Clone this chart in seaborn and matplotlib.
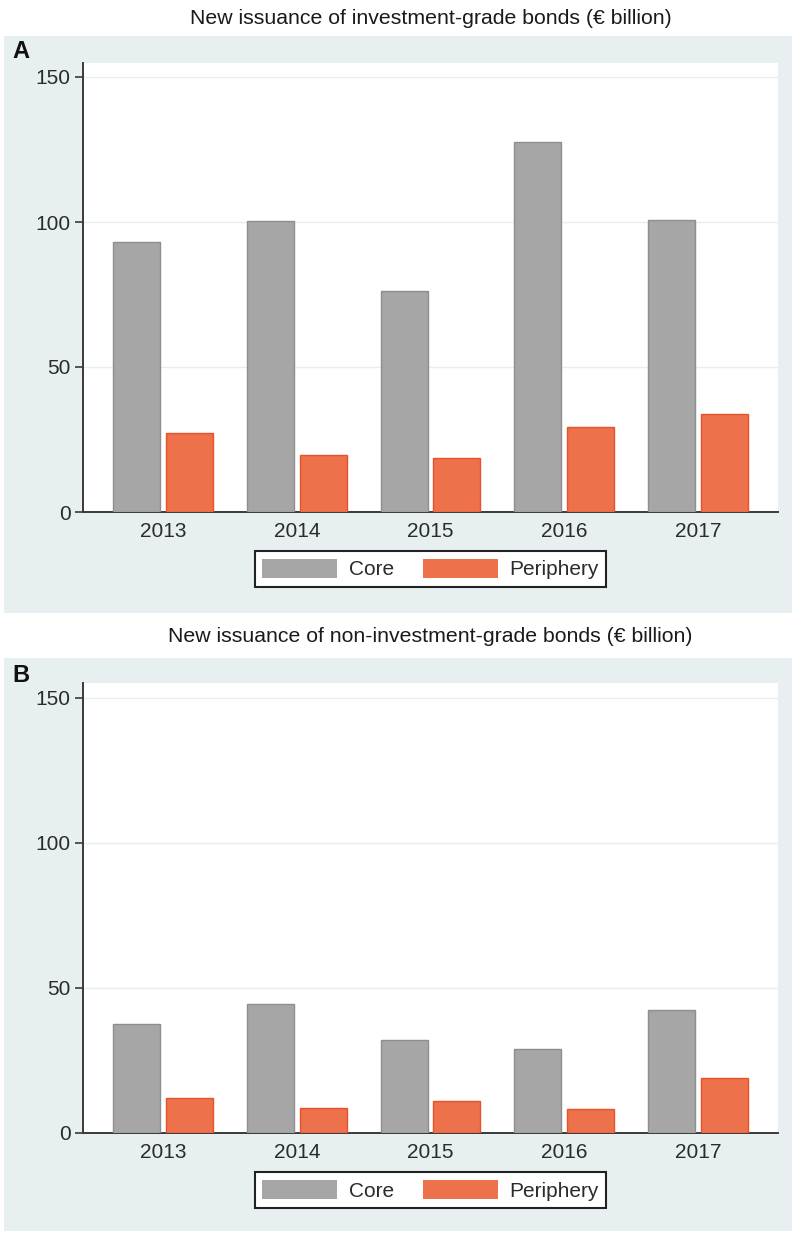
import numpy as np
import pandas as pd
import matplotlib
matplotlib.use('Agg')
import matplotlib.pyplot as plt
import seaborn as sns
from matplotlib.patches import Rectangle

plt.rcParams['font.family'] = ['Liberation Sans', 'DejaVu Sans']

# data (€ billion)
years = ['2013', '2014', '2015', '2016', '2017']
ig_core = [93.2, 100.3, 76.3, 127.5, 100.7]
ig_periphery = [27.1, 19.8, 18.6, 29.2, 33.8]
hy_core = [37.6, 44.5, 32.1, 29.0, 42.4]
hy_periphery = [12.1, 8.6, 11.1, 8.2, 19.0]
series_names = ['Core', 'Periphery']
titles = ['New issuance of investment-grade bonds (€ billion)',
          'New issuance of non-investment-grade bonds (€ billion)']
panel_letters = ['A', 'B']
y_ticks = [0, 50, 100, 150]

face_colors = {'Core': '#a6a6a6', 'Periphery': '#ed714a'}
edge_colors = {'Core': '#8e8e8e', 'Periphery': '#e6522b'}
panel_bg = '#e7eff1'
text_col = '#2b2b2b'


def make_df(core, periphery):
    return pd.DataFrame({
        'year': years * 2,
        'value': list(core) + list(periphery),
        'series': ['Core'] * len(years) + ['Periphery'] * len(years),
    })


fig = plt.figure(figsize=(7.95, 12.33), dpi=100)
W, H = 795, 1233

# panel backgrounds (pixel boxes: x0, y_top, x1, y_bottom)
bg_boxes = [(4, 36, 792, 613), (4, 658, 792, 1231)]
for x0, yt, x1, yb in bg_boxes:
    fig.patches.append(Rectangle((x0 / W, 1 - yb / H), (x1 - x0) / W, (yb - yt) / H,
                                 transform=fig.transFigure, facecolor=panel_bg,
                                 edgecolor='none', zorder=-5))

# axes boxes in pixels: left, top, right, bottom
ax_boxes = [(83, 62.5, 778, 512), (83, 683, 778, 1133)]
title_y = [18, 637]
letter_y = [52, 675]
datasets = [make_df(ig_core, ig_periphery), make_df(hy_core, hy_periphery)]

for i, df in enumerate(datasets):
    l, t, r, b = ax_boxes[i]
    ax = fig.add_axes([l / W, 1 - b / H, (r - l) / W, (b - t) / H])
    ax.set_zorder(2)
    ax.set_facecolor('white')
    sns.barplot(data=df, x='year', y='value', hue='series', order=years,
                hue_order=series_names, palette=face_colors, width=0.79, gap=0.11,
                saturation=1, errorbar=None, ax=ax, zorder=3)
    for cont, name in zip(ax.containers, series_names):
        for bar in cont:
            bar.set_edgecolor(edge_colors[name])
            bar.set_linewidth(1.0)

    ax.set_xlim(-0.6, 4.6)
    ax.set_ylim(0, 155)
    ax.set_yticks(y_ticks)
    ax.yaxis.grid(True, color='#e6eef1', linewidth=1.0, zorder=0)
    ax.set_axisbelow(True)
    for s in ['top', 'right']:
        ax.spines[s].set_visible(False)
    for s in ['left', 'bottom']:
        ax.spines[s].set_color('#3a3a3a')
        ax.spines[s].set_linewidth(1.4)
    ax.tick_params(axis='y', length=6, width=1.2, color='#3a3a3a', pad=3,
                   labelsize=15, labelcolor=text_col)
    ax.tick_params(axis='x', length=0, pad=7, labelsize=15, labelcolor=text_col)
    ax.set_xlabel('')
    ax.set_ylabel('')

    handles, labels = ax.get_legend_handles_labels()
    ax.legend(handles, labels, loc='center', bbox_to_anchor=(0.5, -0.127), ncol=2,
              fontsize=15, frameon=True, fancybox=False, edgecolor='#222222',
              framealpha=1, handlelength=3.6, handleheight=1.05, handletextpad=0.55,
              columnspacing=1.4, borderpad=0.35, labelcolor=text_col)
    ax.get_legend().get_frame().set_linewidth(1.5)

    fig.text((l + r) / 2 / W, 1 - title_y[i] / H, titles[i], ha='center', va='center',
             fontsize=15.3, color='#1a1a1a')
    fig.text(21 / W, 1 - letter_y[i] / H, panel_letters[i], ha='center', va='center',
             fontsize=17, fontweight='bold', color='#111111')

fig.savefig('out.png', dpi=100)
